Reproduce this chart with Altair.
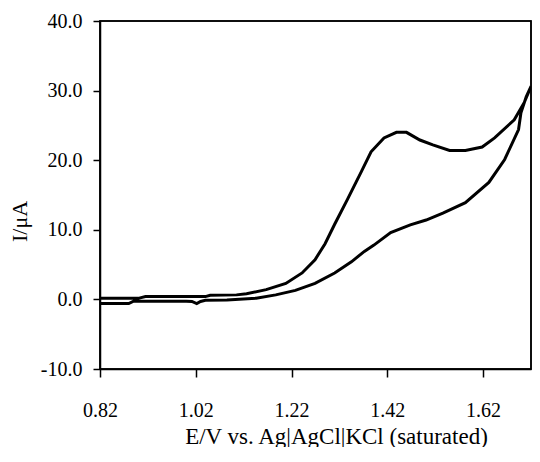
import altair as alt
import pandas as pd

# Forward (anodic) scan
E_fwd = [0.82, 0.90, 0.915, 1.04, 1.05, 1.105, 1.126, 1.167, 1.208, 1.242, 1.269, 1.290, 1.310,
         1.337, 1.366, 1.386, 1.413, 1.439, 1.460, 1.488, 1.515, 1.550, 1.583, 1.618, 1.644,
         1.685, 1.706, 1.72]
I_fwd = [0.15, 0.15, 0.4, 0.4, 0.6, 0.65, 0.8, 1.4, 2.3, 3.8, 5.7, 8.0, 10.8,
         14.4, 18.4, 21.2, 23.2, 24.0, 24.0, 22.9, 22.2, 21.4, 21.4, 21.9, 23.2,
         25.8, 28.3, 30.6]

# Reverse scan
E_rev = [1.72, 1.710, 1.699, 1.694, 1.665, 1.632, 1.583, 1.536, 1.501, 1.468, 1.427, 1.392,
         1.372, 1.345, 1.310, 1.269, 1.228, 1.187, 1.146, 1.085, 1.04, 1.03, 1.022, 1.012,
         1.00, 0.89, 0.88, 0.82]
I_rev = [30.6, 29.1, 26.8, 24.4, 20.1, 16.8, 13.9, 12.4, 11.4, 10.7, 9.6, 7.8,
         6.9, 5.4, 3.8, 2.3, 1.3, 0.65, 0.17, -0.07, -0.12, -0.3, -0.6, -0.3,
         -0.25, -0.25, -0.6, -0.6]

x_ticks = [0.82, 1.02, 1.22, 1.42, 1.62]
y_ticks = [-10, 0, 10, 20, 30, 40]
x_range = [0.82, 1.72]
y_range = [-10, 40]

E_all = E_fwd + E_rev
I_all = I_fwd + I_rev
df = pd.DataFrame({"E": E_all, "I": I_all, "idx": list(range(len(E_all)))})

FONT = "Liberation Serif"
W, H = 431, 348

xscale = alt.Scale(domain=x_range, nice=False, zero=False)
yscale = alt.Scale(domain=y_range, nice=False, zero=False)

xaxis = alt.Axis(values=x_ticks, format=".2f", grid=False,
                 title="E/V vs. Ag|AgCl|KCl (saturated)",
                 tickSize=8, labelPadding=39, labelBaseline="alphabetic",
                 labelFontSize=20, labelFont=FONT, labelColor="black",
                 titleFont=FONT, titleFontSize=23, titleFontWeight="normal",
                 titleColor="black", titleX=236, titleY=74,
                 titleBaseline="alphabetic", titleAlign="center",
                 domainColor="black", domainWidth=1.5,
                 tickColor="black", tickWidth=1.5, labelFlush=False)
yaxis = alt.Axis(values=y_ticks, grid=False,
                 labelExpr="datum.value < 0 ? '-' + format(-datum.value, '.1f') : format(datum.value, '.1f')",
                 title="I/μA",
                 tickSize=7, labelPadding=11,
                 labelFontSize=20, labelFont=FONT, labelColor="black",
                 titleFont=FONT, titleFontSize=22, titleFontWeight="normal",
                 titleColor="black", titleX=-81, titleY=200,
                 titleBaseline="middle", titleAlign="center", titleAngle=-90,
                 domainColor="black", domainWidth=1.5,
                 tickColor="black", tickWidth=1.5, labelFlush=False)

frame_box = alt.Chart().mark_rect(fillOpacity=0, stroke="black", strokeWidth=1.5).encode(
    x=alt.value(0), x2=alt.value(W), y=alt.value(0), y2=alt.value(H)
)

line = alt.Chart(df).mark_line(color="black", strokeWidth=3, clip=True).encode(
    x=alt.X("E:Q", scale=xscale, axis=xaxis),
    y=alt.Y("I:Q", scale=yscale, axis=yaxis),
    order="idx:Q",
)

chart = alt.layer(line, frame_box).properties(
    width=W,
    height=H,
    background="white",
    autosize=alt.AutoSizeParams(type="none"),
    padding={"left": 92, "top": 13, "right": 1, "bottom": 78},
).configure_view(
    stroke="black", strokeWidth=1.5
)

chart.save("out.html", embed_options={"renderer": "svg", "actions": False})
